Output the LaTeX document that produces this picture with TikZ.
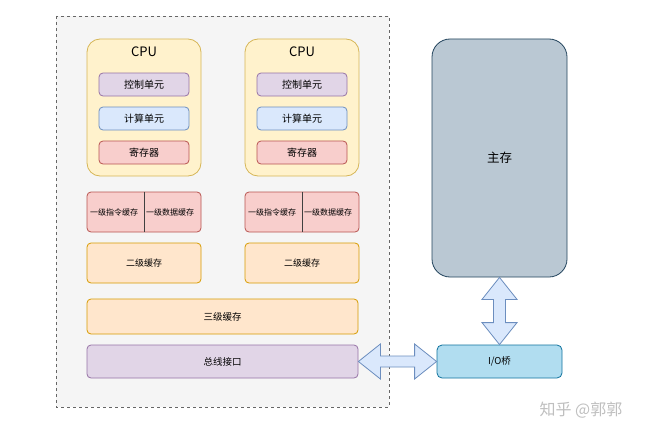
\documentclass[tikz,border=0pt]{standalone}
\usepackage{fontspec}
\setmainfont{Noto Sans CJK SC}
\usetikzlibrary{calc}
\definecolor{bggray}{HTML}{F5F5F5}
\definecolor{frame}{HTML}{666666}
\definecolor{yellowfill}{HTML}{FFF2CC}
\definecolor{yellowline}{HTML}{D6B656}
\definecolor{purplefill}{HTML}{E1D5E7}
\definecolor{purpleline}{HTML}{9673A6}
\definecolor{bluefill}{HTML}{DAE8FC}
\definecolor{blueline}{HTML}{6C8EBF}
\definecolor{redfill}{HTML}{F8CECC}
\definecolor{redline}{HTML}{B85450}
\definecolor{orangefill}{HTML}{FFE6CC}
\definecolor{orangeline}{HTML}{D79B00}
\definecolor{memfill}{HTML}{BAC8D3}
\definecolor{memline}{HTML}{23445D}
\definecolor{iofill}{HTML}{B1DDF0}
\definecolor{ioline}{HTML}{10739E}
\tikzset{
  box/.style={draw, line width=0.8pt, rounded corners=4pt, inner sep=0pt, font=\fontsize{10}{12}\selectfont},
  cpubox/.style={box, fill=yellowfill, draw=yellowline, rounded corners=13pt, minimum width=114, minimum height=137},
  unitbox/.style={box, minimum width=90, minimum height=23},
  cachebox/.style={box, minimum width=114, minimum height=40},
  widebox/.style={box, minimum width=271},
  fatarrow/.style={fill=bluefill, draw=blueline, line width=0.8pt, line join=miter}
}
\begin{document}
\begin{tikzpicture}[x=1pt, y=-1pt]
\useasboundingbox[fill=white] (0,0) rectangle (650,436);
\draw[fill=bggray, draw=frame, dashed, line width=0.8pt] (56,16) rectangle (389,407);
\foreach \i/\x in {1/144, 2/302} {
  \node[cpubox] (cpu\i) at (\x,107.5) {};
  \node[font=\fontsize{13}{15}\selectfont] (cputitle\i) at (\x,52) {CPU};
  \node[unitbox, fill=purplefill, draw=purpleline] (ctrl\i) at (\x,84.5) {控制单元};
  \node[unitbox, fill=bluefill, draw=blueline] (alu\i) at (\x,118.5) {计算单元};
  \node[unitbox, fill=redfill, draw=redline] (reg\i) at (\x,152.5) {寄存器};
  \node[cachebox, fill=redfill, draw=redline] (lone\i) at (\x,212) {};
  \draw[black!75, line width=0.8pt] (lone\i.north) -- (lone\i.south);
  \node[font=\fontsize{8}{10}\selectfont] (linstr\i) at ($(lone\i.center)+(-30,0)$) {一级指令缓存};
  \node[font=\fontsize{8}{10}\selectfont] (ldata\i) at ($(lone\i.center)+(26,0)$) {一级数据缓存};
  \node[cachebox, fill=orangefill, draw=orangeline, font=\fontsize{9}{11}\selectfont] (ltwo\i) at (\x,263) {二级缓存};
}
\node[widebox, fill=orangefill, draw=orangeline, minimum height=35, font=\fontsize{9.5}{11}\selectfont] (lthree) at (222.5,316.5) {三级缓存};
\node[widebox, fill=purplefill, draw=purpleline, minimum height=33, font=\fontsize{9.5}{11}\selectfont] (bus) at (222.5,361.5) {总线接口};
\node[box, fill=memfill, draw=memline, rounded corners=18pt, minimum width=135, minimum height=238, font=\fontsize{12.5}{14}\selectfont] (mem) at (499.5,158) {主存};
\node[box, fill=iofill, draw=ioline, rounded corners=5pt, minimum width=125, minimum height=33, font=\fontsize{9.5}{11}\selectfont] (io) at (499.5,361.5) {I/O桥};
\draw[fatarrow] (mem.south) -- ++(17.5,22) -- ++(-11.5,0) -- ($(io.north)+(6,-22)$) -- ++(11.5,0) -- (io.north)
  -- ++(-17.5,-22) -- ++(11.5,0) -- ($(mem.south)+(-6,22)$) -- ++(-11.5,0) -- cycle;
\draw[fatarrow] (bus.east) -- ++(22,-17.5) -- ++(0,12) -- ($(io.west)+(-22,-5.5)$) -- ++(0,-12) -- (io.west)
  -- ++(-22,17.5) -- ++(0,-12) -- ($(bus.east)+(22,5.5)$) -- ++(0,12) -- cycle;
\node[text=black!25, font=\fontsize{16}{18}\selectfont] (mark) at (581,410) {知乎 @郭郭};
\end{tikzpicture}
\end{document}
